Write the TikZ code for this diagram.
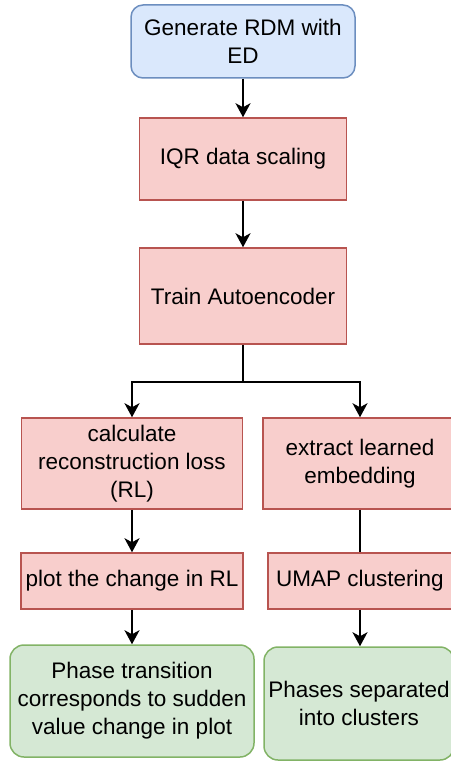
\documentclass[tikz,border=0pt]{standalone}
\usepackage{fontspec}
\setmainfont{Liberation Sans}
\usetikzlibrary{arrows.meta,calc,positioning}

\definecolor{blueFill}{HTML}{DAE8FC}
\definecolor{blueLine}{HTML}{6C8EBF}
\definecolor{redFill}{HTML}{F8CECC}
\definecolor{redLine}{HTML}{B85450}
\definecolor{greenFill}{HTML}{D5E8D4}
\definecolor{greenLine}{HTML}{82B366}

\begin{document}
\begin{tikzpicture}[
  x=1pt,y=-1pt,
  font=\fontsize{22.5}{28}\selectfont,
  box/.style    ={draw,rectangle,align=center,line width=1.5pt,inner sep=2pt},
  startbox/.style={box,fill=blueFill,draw=blueLine,rounded corners=12pt},
  procbox/.style ={box,fill=redFill,draw=redLine},
  endbox/.style  ={box,fill=greenFill,draw=greenLine,rounded corners=14pt},
  arrow/.style={-{Stealth[length=14pt,width=15pt,inset=4pt]},line width=2pt},
  link/.style ={line width=2pt},
]
\useasboundingbox (0,0) rectangle (450,762);

%% ===== Main column ===========================================================
\node[startbox,minimum width=224pt,minimum height=73pt] (gen) at (243,41.5)
      {Generate RDM with\\ED};
\node[procbox,minimum width=207pt,minimum height=82pt] (iqr) at (243,159)
      {IQR data scaling};
\node[procbox,minimum width=207pt,minimum height=96pt] (train) at (243,296)
      {Train Autoencoder};

%% ===== Left branch ===========================================================
\node[procbox,minimum width=221pt,minimum height=91pt] (rl) at (132,463.5)
      {calculate\\reconstruction loss\\(RL)};
\node[procbox,minimum width=222pt,minimum height=56pt] (plotrl) at (132,581)
      {plot the change in RL};
\node[endbox,minimum width=244pt,minimum height=112pt] (phaseA) at (132,701)
      {Phase transition\\corresponds to sudden\\value change in plot};

%% ===== Right branch ==========================================================
\node[procbox,minimum width=194pt,minimum height=91pt] (embed) at (360,463.5)
      {extract learned\\embedding};
\node[procbox,minimum width=184pt,minimum height=56pt] (umap) at (360,581)
      {UMAP clustering};
\node[endbox,minimum width=190pt,minimum height=113pt] (phaseB) at (359,703.5)
      {Phases separated\\into clusters};

%% ===== Arrows ================================================================
\foreach \a/\b in {gen/iqr, iqr/train, rl/plotrl, plotrl/phaseA} {
  \draw[arrow] (\a.south) -- (\b.north);
}
\draw[arrow] (umap.south) -- (umap.south |- phaseB.north);
\draw[link] (embed.south) -- (embed.south |- umap.north);
\draw[link] (train.south) -- ++(0,37) coordinate (split);
\draw[arrow] (split) -| (rl.north);
\draw[arrow] (split) -| (embed.north);

\end{tikzpicture}
\end{document}
